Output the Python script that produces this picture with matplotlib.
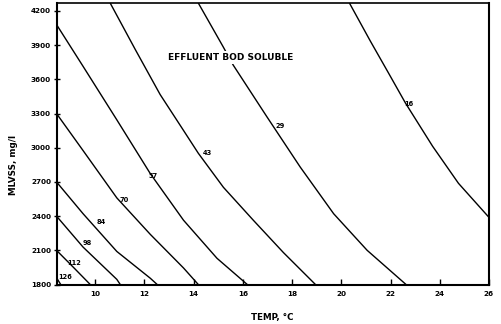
import matplotlib
matplotlib.use("Agg")
import matplotlib.pyplot as plt

# effluent soluble BOD, one curve each: temperature (deg C) vs MLVSS (mg/l)
BOD_LEVELS = [16, 29, 43, 57, 70, 84, 98, 112, 126]

TEMP = {
    16: [20.33, 21.18, 21.92, 22.61, 23.71, 24.76, 26.0],
    29: [14.19, 15.20, 15.61, 16.98, 18.33, 19.69, 21.05, 22.63],
    43: [10.61, 11.63, 12.64, 13.46, 14.19, 15.21, 16.43, 17.65, 18.95],
    57: [8.43, 9.51, 10.88, 12.24, 13.59, 14.95, 16.18],
    70: [8.43, 9.51, 10.88, 12.24, 13.59, 14.19],
    84: [8.43, 9.51, 10.88, 12.24, 12.52],
    98: [8.43, 9.51, 10.88, 11.02],
    112: [8.43, 9.12, 9.80],
    126: [8.43, 8.60],
}
MLVSS = {
    16: [4270, 3936, 3655, 3391, 3013, 2688, 2389],
    29: [4270, 3886, 3725, 3271, 2831, 2421, 2100, 1800],
    43: [4270, 3862, 3467, 3195, 2952, 2653, 2363, 2080, 1800],
    57: [4081, 3714, 3245, 2773, 2364, 2030, 1800],
    70: [3300, 2975, 2560, 2240, 1945, 1800],
    84: [2700, 2421, 2090, 1855, 1800],
    98: [2400, 2128, 1845, 1800],
    112: [2100, 1950, 1800],
    126: [1860, 1800],
}

# where each curve's number is written
LABEL_T = [22.73, 17.52, 14.55, 12.36, 11.18, 10.24, 9.67, 9.15, 8.78]
LABEL_M = [3382, 3189, 2952, 2749, 2538, 2345, 2160, 1993, 1862]

X_TICKS = [10, 12, 14, 16, 18, 20, 22, 24, 26]
Y_TICKS = [1800, 2100, 2400, 2700, 3000, 3300, 3600, 3900, 4200]

fig = plt.figure(figsize=(5.01, 3.24), dpi=100)
ax = fig.add_axes([0.1128, 0.1219, 0.976 - 0.1128, 0.9907 - 0.1219])

for bod in BOD_LEVELS:
    ax.plot(TEMP[bod], MLVSS[bod], color="black", linewidth=1.0,
            solid_joinstyle="round", solid_capstyle="butt")

for bod, t, m in zip(BOD_LEVELS, LABEL_T, LABEL_M):
    ax.text(t, m, str(bod), fontsize=4.8, fontweight="bold",
            ha="center", va="center")

ax.text(15.49, 3795, "EFFLUENT BOD SOLUBLE", fontsize=6.5, fontweight="bold",
        ha="center", va="center",
        bbox=dict(facecolor="white", edgecolor="none", pad=1.5))

ax.set_xlim(8.43, 26.0)
ax.set_ylim(1800, 4270)
ax.set_xticks(X_TICKS)
ax.set_yticks(Y_TICKS)
ax.tick_params(axis="x", direction="in", length=4, width=1.0,
               labelsize=5.2, pad=5)
ax.tick_params(axis="y", direction="inout", length=5, width=1.0,
               labelsize=5.2, pad=1.5)
for lab in ax.get_xticklabels() + ax.get_yticklabels():
    lab.set_fontweight("bold")

for side in ["left", "right", "top", "bottom"]:
    ax.spines[side].set_linewidth(1.5)
ax.spines["top"].set_linewidth(1.2)

ax.set_xlabel("TEMP, °C", fontsize=6.3, fontweight="bold")
ax.set_ylabel("MLVSS, mg/l", fontsize=6.3, fontweight="bold")
ax.xaxis.set_label_coords(0.498, -0.10)
ax.yaxis.set_label_coords(-0.089, 0.425)

fig.savefig("out.png", dpi=100)
